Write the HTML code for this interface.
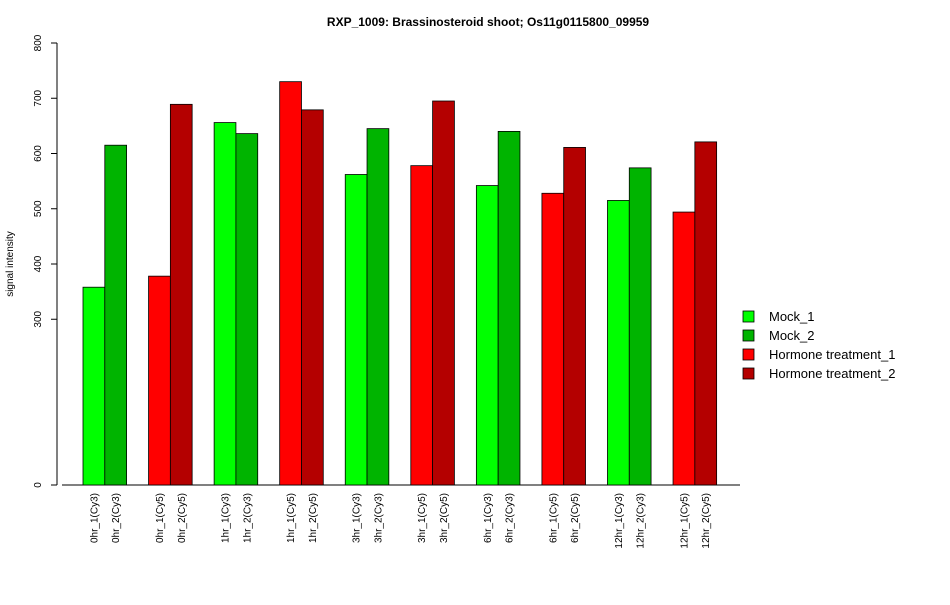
<!DOCTYPE html>
<html><head><meta charset="utf-8"><style>
body{margin:0;background:#fff;font-family:"Liberation Sans",sans-serif}
</style></head><body>
<svg id="chart" width="950" height="600" xmlns="http://www.w3.org/2000/svg" font-family="Liberation Sans, sans-serif">
<text x="488" y="26" text-anchor="middle" font-size="12" font-weight="bold">RXP_1009: Brassinosteroid shoot; Os11g0115800_09959</text>
<text transform="translate(13,264) rotate(-90)" text-anchor="middle" font-size="10">signal intensity</text>
<g id="axes"></g><g id="bars"></g><g id="legend"></g>
</svg>
<script>
const categories=["0hr_1(Cy3)","0hr_2(Cy3)","0hr_1(Cy5)","0hr_2(Cy5)","1hr_1(Cy3)","1hr_2(Cy3)","1hr_1(Cy5)","1hr_2(Cy5)","3hr_1(Cy3)","3hr_2(Cy3)","3hr_1(Cy5)","3hr_2(Cy5)","6hr_1(Cy3)","6hr_2(Cy3)","6hr_1(Cy5)","6hr_2(Cy5)","12hr_1(Cy3)","12hr_2(Cy3)","12hr_1(Cy5)","12hr_2(Cy5)"];
const values=[358,615,378,689,656,636,730,679,562,645,578,695,542,640,528,611,515,574,494,621];
const seriesIdx=[0,1,2,3,0,1,2,3,0,1,2,3,0,1,2,3,0,1,2,3];
const seriesNames=["Mock_1","Mock_2","Hormone treatment_1","Hormone treatment_2"];
const seriesColors=["#00ff00","#00b400","#ff0000","#b40000"];
const yTicks=[0,300,400,500,600,700,800];
const NS="http://www.w3.org/2000/svg";
const y0=485,yScale=442/800;
const y=v=>y0-v*yScale;
const bw=21.8,x0=83,pairStep=65.56;
const x=i=>x0+Math.floor(i/2)*pairStep+(i%2)*bw;
function mk(tag,attrs,parent){const e=document.createElementNS(NS,tag);for(const k in attrs)e.setAttribute(k,attrs[k]);parent.appendChild(e);return e;}
const axes=document.getElementById('axes'),bars=document.getElementById('bars'),legend=document.getElementById('legend');
let ya=mk('line',{x1:57,x2:57,y1:y(0),y2:y(800),stroke:'#000'},axes);


yTicks.forEach(t=>{
 mk('line',{x1:51,x2:57,y1:y(t),y2:y(t),stroke:'#000'},axes);
 const tx=mk('text',{transform:`translate(41,${y(t)}) rotate(-90)`,'text-anchor':'middle','font-size':10},axes);
 tx.textContent=t;
 
 
});
let xa=mk('line',{x1:62,x2:740,y1:y0,y2:y0,stroke:'#000'},axes);


categories.forEach((c,i)=>{
 const r=mk('rect',{x:x(i),y:y(values[i]),width:bw,height:values[i]*yScale,fill:seriesColors[seriesIdx[i]],stroke:'#000','stroke-width':0.8},bars);
 
 
 const t=mk('text',{transform:`translate(${x(i)+bw/2+3.5},${y0+8}) rotate(-90)`,'text-anchor':'end','font-size':10},axes);
 t.textContent=c;
 
 
});
seriesNames.forEach((n,k)=>{
 const ly=316+k*19;
 const r=mk('rect',{x:743,y:ly-5,width:11,height:11,fill:seriesColors[k],stroke:'#000','stroke-width':0.8},legend);
 
 
 const t=mk('text',{x:769,y:ly+5,'font-size':13},legend);
 t.textContent=n;
 
 
});
</script>
</body></html>
